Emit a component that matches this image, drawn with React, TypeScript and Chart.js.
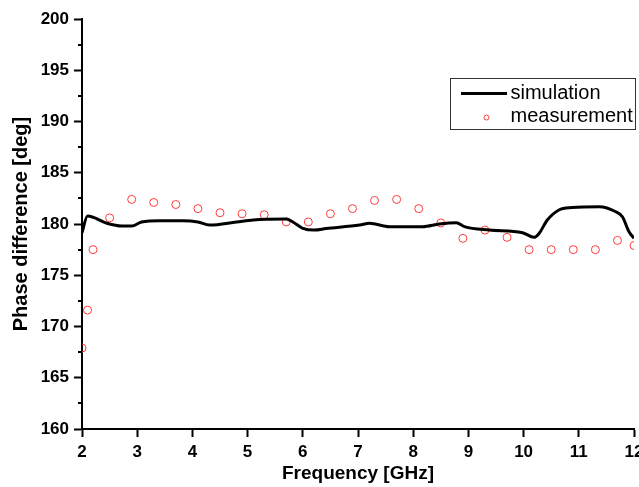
import React, { useEffect, useRef } from "react";
import { Chart, registerables } from "chart.js";

Chart.register(...registerables);

// Simulation curve (frequency GHz, phase difference deg)
const simFreq = [2.0, 2.1, 2.45, 2.72, 2.9, 3.08, 3.41, 3.83, 4.1, 4.31, 4.8, 5.1, 5.7, 5.82, 6.0, 6.21, 6.42, 7.03, 7.21, 7.57, 8.17, 8.47, 8.78, 8.93, 9.38, 9.98, 10.19, 10.28, 10.43, 10.64, 10.88, 11.37, 11.67, 11.79, 11.91, 12.0];
const simPhase = [179.15, 180.78, 180.07, 179.8, 179.8, 180.2, 180.32, 180.32, 180.2, 179.9, 180.2, 180.4, 180.49, 180.2, 179.58, 179.41, 179.55, 179.9, 180.07, 179.74, 179.74, 180.0, 180.13, 179.74, 179.41, 179.15, 178.7, 179.08, 180.39, 181.37, 181.6, 181.69, 181.2, 180.71, 179.24, 178.6];

// Measurement points
const measFreq = [2.0, 2.1, 2.2, 2.5, 2.9, 3.3, 3.7, 4.1, 4.5, 4.9, 5.3, 5.7, 6.1, 6.5, 6.9, 7.3, 7.7, 8.1, 8.5, 8.9, 9.3, 9.7, 10.1, 10.5, 10.9, 11.3, 11.7, 12.0];
const measPhase = [167.9, 171.6, 177.5, 180.6, 182.4, 182.1, 181.9, 181.5, 181.1, 181.0, 180.9, 180.2, 180.2, 181.0, 181.5, 182.3, 182.4, 181.5, 180.1, 178.6, 179.4, 178.7, 177.5, 177.5, 177.5, 177.5, 178.4, 177.9];

const seriesLabels = ["simulation", "measurement"];
const xTitle = "Frequency [GHz]";
const yTitle = "Phase difference [deg]";

const FONT = "'Liberation Sans', Arial, sans-serif";
const RED = "rgb(255,60,60)";

const minorTicksPlugin = {
  id: "minorTicks",
  afterDraw(chart: any) {
    const y = chart.scales.y;
    const ctx = chart.ctx;
    const ticks = y.ticks;
    ctx.save();
    ctx.strokeStyle = "#000";
    ctx.lineWidth = 2;
    for (let i = 0; i < ticks.length - 1; i++) {
      const v = (ticks[i].value + ticks[i + 1].value) / 2;
      const py = Math.round(y.getPixelForValue(v));
      ctx.beginPath();
      ctx.moveTo(y.right - 4, py);
      ctx.lineTo(y.right, py);
      ctx.stroke();
    }
    ctx.restore();
  },
};

const legendPlugin = {
  id: "boxLegend",
  afterDraw(chart: any) {
    const ctx = chart.ctx;
    const area = chart.chartArea;
    const x0 = area.right - 183.5;
    const y0 = area.top + 59.5;
    const w = 185;
    const h = 51;
    ctx.save();
    ctx.strokeStyle = "#333";
    ctx.lineWidth = 1;
    ctx.strokeRect(x0, y0, w, h);
    const ds = chart.data.datasets;
    // simulation entry
    ctx.strokeStyle = ds[0].borderColor;
    ctx.lineWidth = 3;
    ctx.beginPath();
    ctx.moveTo(x0 + 10.5, y0 + 15);
    ctx.lineTo(x0 + 56.5, y0 + 15);
    ctx.stroke();
    // measurement entry
    ctx.strokeStyle = ds[1].borderColor;
    ctx.lineWidth = 1;
    ctx.beginPath();
    ctx.arc(x0 + 36, y0 + 39, 2.5, 0, Math.PI * 2);
    ctx.stroke();
    ctx.fillStyle = "#000";
    ctx.font = `20px ${FONT}`;
    ctx.textBaseline = "middle";
    ctx.textAlign = "left";
    ctx.fillText(ds[0].label, x0 + 60, y0 + 15);
    ctx.fillText(ds[1].label, x0 + 60, y0 + 38);
    ctx.restore();
  },
};

export default function App() {
  const canvasRef = useRef<HTMLCanvasElement | null>(null);

  useEffect(() => {
    document.body.style.margin = "0";
    const canvas = canvasRef.current;
    if (!canvas) return;
    const chart = new Chart(canvas, {
      type: "scatter",
      data: {
        datasets: [
          {
            type: "line",
            label: seriesLabels[0],
            data: simFreq.map((f, i) => ({ x: f, y: simPhase[i] })),
            borderColor: "#000",
            borderWidth: 3,
            pointRadius: 0,
            fill: false,
            cubicInterpolationMode: "monotone",
            showLine: true,
          } as any,
          {
            label: seriesLabels[1],
            data: measFreq.map((f, i) => ({ x: f, y: measPhase[i] })),
            borderColor: RED,
            backgroundColor: "rgba(0,0,0,0)",
            borderWidth: 1,
            pointRadius: 4,
            pointStyle: "circle",
            showLine: false,
          },
        ],
      },
      options: {
        responsive: false,
        animation: false,
        devicePixelRatio: 1,
        layout: { padding: { top: 19, right: 4, left: 0, bottom: 0 } },
        plugins: {
          legend: { display: false },
          tooltip: { enabled: false },
        },
        scales: {
          x: {
            type: "linear",
            min: 2,
            max: 12,
            ticks: {
              stepSize: 1,
              color: "#000",
              padding: 5,
              font: { family: FONT, size: 17, weight: "bold" },
            },
            grid: {
              drawOnChartArea: false,
              drawTicks: true,
              tickLength: 8,
              tickColor: "#000",
              tickWidth: 2,
            },
            border: { display: true, color: "#000", width: 2 },
            title: {
              display: true,
              text: xTitle,
              color: "#000",
              padding: { top: 0, bottom: 2 },
              font: { family: FONT, size: 19, weight: "bold" },
            },
            afterFit(scale: any) {
              scale.height = 58;
              scale.paddingLeft = 0;
              scale.paddingRight = 0;
            },
          },
          y: {
            type: "linear",
            min: 160,
            max: 200,
            ticks: {
              stepSize: 5,
              color: "#000",
              padding: 5,
              font: { family: FONT, size: 17, weight: "bold" },
            },
            grid: {
              drawOnChartArea: false,
              drawTicks: true,
              tickLength: 8,
              tickColor: "#000",
              tickWidth: 2,
            },
            border: { display: true, color: "#000", width: 2 },
            title: {
              display: true,
              text: yTitle,
              color: "#000",
              padding: { top: 9, bottom: 0 },
              font: { family: FONT, size: 20, weight: "bold" },
            },
            afterFit(scale: any) {
              scale.width = 82;
              scale.paddingTop = 0;
              scale.paddingBottom = 0;
            },
          },
        },
      },
      plugins: [minorTicksPlugin, legendPlugin],
    });
    return () => chart.destroy();
  }, []);

  return (
    <div style={{ width: 639, height: 487 }}>
      <canvas ref={canvasRef} width={639} height={487} />
    </div>
  );
}
